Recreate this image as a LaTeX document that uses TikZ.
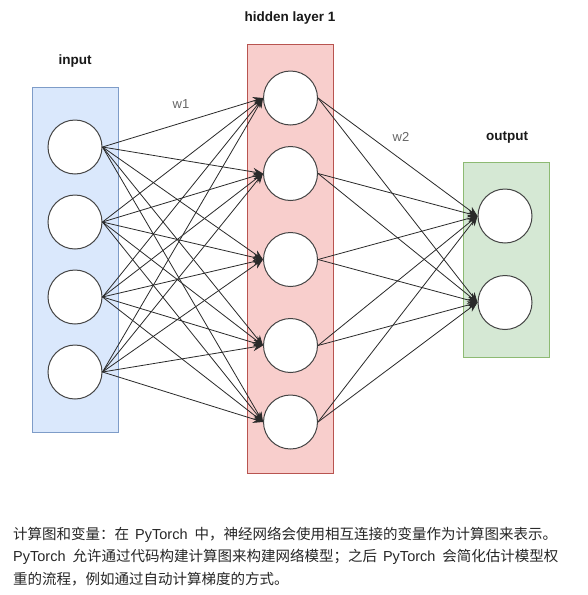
\documentclass[tikz,border=0pt]{standalone}
\usepackage{fontspec}
\setmainfont{Liberation Sans}
\newfontfamily\cjk{Noto Sans CJK SC}
\usetikzlibrary{arrows.meta}
\definecolor{inFill}{HTML}{DAE8FC}
\definecolor{inDraw}{HTML}{7E9CC8}
\definecolor{hidFill}{HTML}{F8CECC}
\definecolor{hidDraw}{HTML}{B85450}
\definecolor{outFill}{HTML}{D5E8D4}
\definecolor{outDraw}{HTML}{8DBA73}
\definecolor{lineCol}{HTML}{2A2A2A}
\definecolor{circCol}{HTML}{444444}
\definecolor{txtCol}{HTML}{262626}
\definecolor{wCol}{HTML}{666666}
\tikzset{
  layerbox/.style={rectangle, inner sep=0pt, line width=0.8pt, minimum width=86pt},
  neuron/.style={circle, draw=circCol, fill=white, line width=1pt, minimum size=54pt, inner sep=0pt},
  edge/.style={draw=lineCol, line width=0.8pt, -{Stealth[length=10pt,width=8pt]}},
  title/.style={font=\fontsize{13.5}{16}\selectfont\bfseries, text=black!90},
  wlabel/.style={font=\fontsize{13}{16}\selectfont, text=wCol},
  body/.style={anchor=west, inner sep=0pt, font=\fontsize{14.5}{18}\selectfont, text=txtCol}
}
\begin{document}
\begin{tikzpicture}[x=1pt,y=-1pt]
\useasboundingbox (0,0) rectangle (587,595);
\fill[white] (0,0) rectangle (587,595);
% layer boxes
\node[layerbox, fill=inFill, draw=inDraw, minimum height=345pt] (inbox) at (75,259.5) {};
\node[layerbox, fill=hidFill, draw=hidDraw, minimum height=429pt] (hidbox) at (290.5,258.5) {};
\node[layerbox, fill=outFill, draw=outDraw, minimum height=195pt] (outbox) at (506.5,259.5) {};
% titles
\node[title] (tin) at (75,61) {input};
\node[title] (thid) at (290,18) {hidden layer 1};
\node[title] (tout) at (507,137) {output};
\node[wlabel] (w1) at (181,104) {w1};
\node[wlabel] (w2) at (401,137) {w2};
% neurons
\node[neuron] (i1) at (75,147) {};
\node[neuron] (i2) at (75,222) {};
\node[neuron] (i3) at (75,297) {};
\node[neuron] (i4) at (75,372) {};
\node[neuron] (h1) at (290.5,98) {};
\node[neuron] (h2) at (290.5,173.5) {};
\node[neuron] (h3) at (290.5,259.5) {};
\node[neuron] (h4) at (290.5,345.5) {};
\node[neuron] (h5) at (290.5,422) {};
\node[neuron] (o1) at (505,216) {};
\node[neuron] (o2) at (505,302.5) {};
% connections
\foreach \i in {1,...,4}{
  \foreach \j in {1,...,5}{
    \draw[edge] (i\i.east) -- (h\j.west);
  }
}
\foreach \j in {1,...,5}{
  \foreach \k in {1,2}{
    \draw[edge] (h\j.east) -- (o\k.west);
  }
}
% caption text
\node[body] (l1) at (13,535) {{\cjk 计算图和变量：在}\hspace{6pt}PyTorch\hspace{7pt}{\cjk 中，神经网络会使用相互连接的变量作为计算图来表示。}};
\node[body] (l2) at (13,557) {PyTorch\hspace{7pt}{\cjk 允许通过代码构建计算图来构建网络模型；之后}\hspace{6pt}PyTorch\hspace{7pt}{\cjk 会简化估计模型权}};
\node[body] (l3) at (13,579) {{\cjk 重的流程，例如通过自动计算梯度的方式。}};
\end{tikzpicture}
\end{document}
